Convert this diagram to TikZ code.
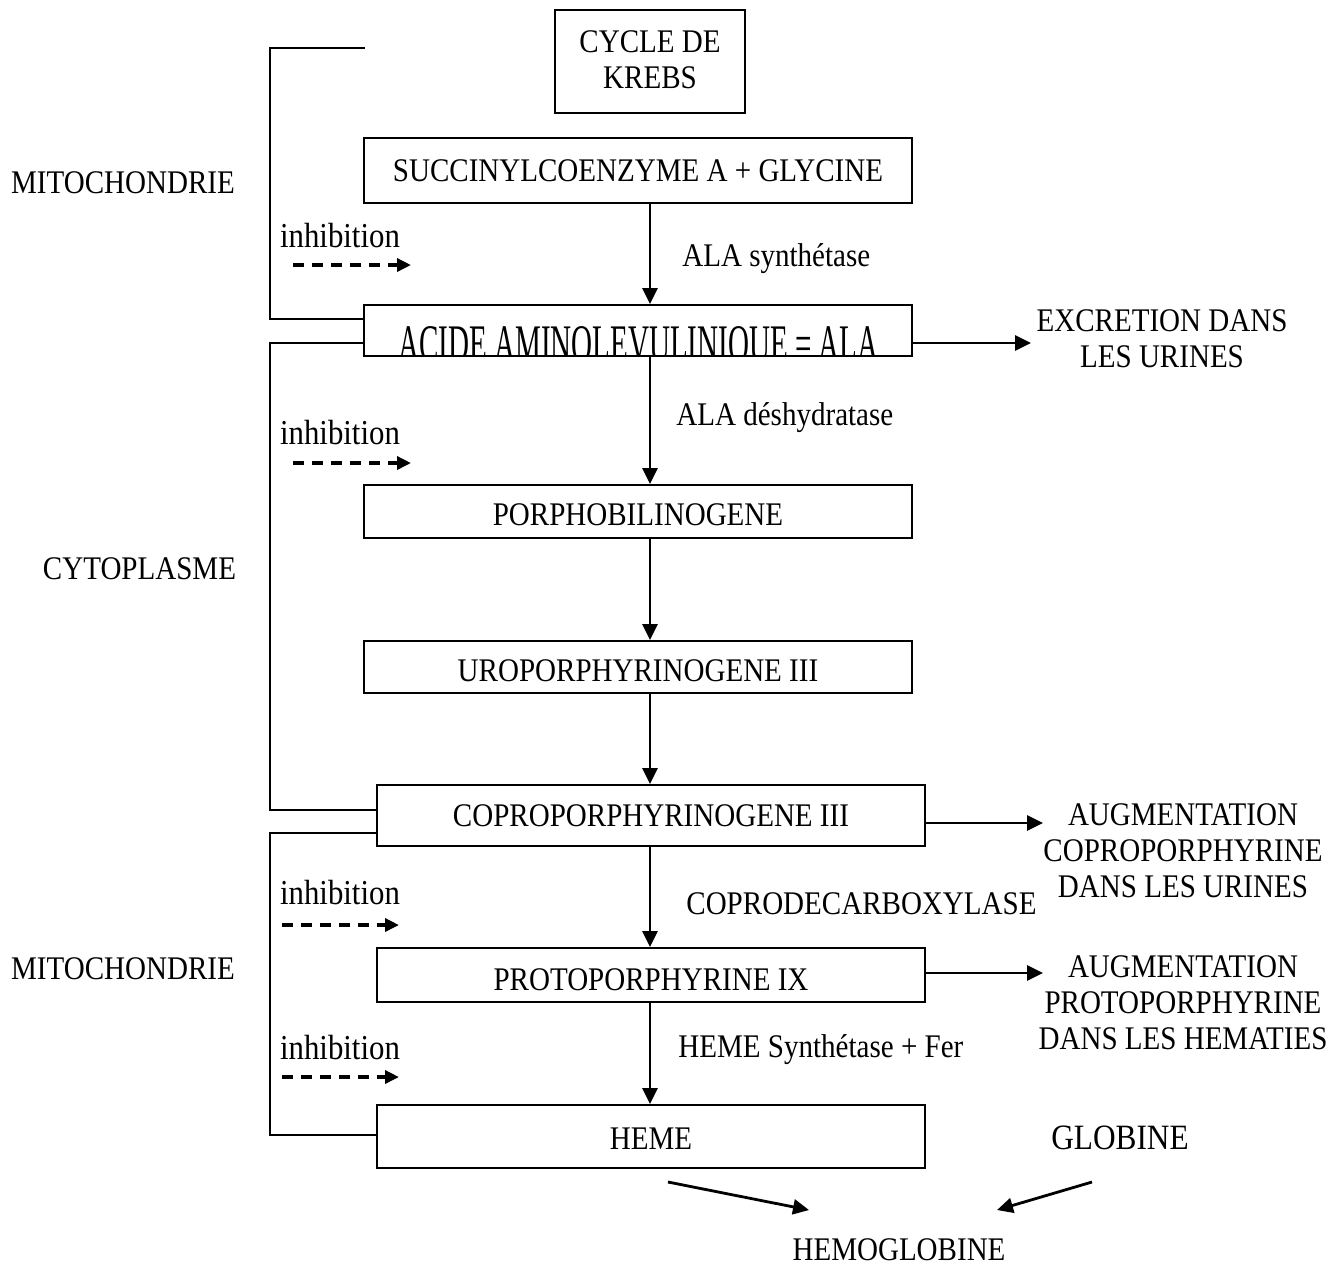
\documentclass[tikz,border=0pt]{standalone}
\usepackage{fontspec}
\usepackage{graphicx}
\setmainfont{Liberation Serif}[FakeStretch=0.88]
\usetikzlibrary{arrows.meta}
\newcommand{\dn}[2]{\raisebox{-#1}[\height][\depth]{#2}}
\tikzset{
  box/.style={draw, line width=1pt, inner sep=0pt, minimum width=274pt, align=center, font=\fontsize{16.5}{18}\selectfont},
  lbl/.style={inner sep=0pt, align=center, font=\fontsize{16.5}{18}\selectfont},
  inh/.style={inner sep=0pt, font=\fontsize{17.5}{20}\selectfont},
  arr/.style={-{Triangle[length=8pt,width=7.5pt]}, line width=1.4pt},
  dasharr/.style={-{Triangle[length=7pt,width=6.5pt]}, line width=1.7pt, dash pattern=on 5.5pt off 4pt},
  brk/.style={line width=1pt}
}
\begin{document}
\begin{tikzpicture}[x=0.5pt,y=-0.5pt]
\useasboundingbox (0,0) rectangle (1343,1266);

% boxes
\node[box, minimum width=95pt, minimum height=51.5pt] (krebs) at (650,61.5) {\dn{-1pt}{CYCLE DE}\\\dn{-1pt}{KREBS}};
\node[box, minimum height=32.5pt] (succ) at (638,170.5) {SUCCINYLCOENZYME A + GLYCINE};
\begin{scope}
  \clip (364,305) rectangle (912,355);
  \node[lbl, anchor=base] (alat) at (638.5,361) {\scalebox{1}[1.6]{ACIDE AMINOLEVULINIQUE = ALA}};
\end{scope}
\node[box, minimum height=25.5pt] (ala) at (638,330.5) {};
\node[box, minimum height=26.5pt] (porpho) at (638,511.5) {\dn{1.75pt}{PORPHOBILINOGENE}};
\node[box, minimum height=26pt] (uro) at (638,667) {\dn{2pt}{UROPORPHYRINOGENE III}};
\node[box, minimum height=30.5pt] (copro) at (651,815.5) {COPROPORPHYRINOGENE III};
\node[box, minimum height=27pt] (proto) at (651,975) {\dn{2.5pt}{PROTOPORPHYRINE IX}};
\node[box, minimum height=31.5pt] (heme) at (651,1136.5) {\dn{1.25pt}{HEME}};

% axis for vertical arrows
\coordinate (ax) at (650,0);

\draw[arr] (succ.south -| ax) -- (ala.north -| ax);
\draw[arr] (ala.south -| ax) -- (porpho.north -| ax);
\draw[arr] (porpho.south -| ax) -- (uro.north -| ax);
\draw[arr] (uro.south -| ax) -- (copro.north -| ax);
\draw[arr] (copro.south -| ax) -- (proto.north -| ax);
\draw[arr] (proto.south -| ax) -- (heme.north -| ax);

% enzyme labels
\node[lbl, anchor=base west] (e1) at (682,266) {ALA synthétase};
\node[lbl, anchor=base west] (e2) at (676,425) {ALA déshydratase};
\node[lbl, anchor=base west] (e3) at (686,914) {COPRODECARBOXYLASE};
\node[lbl, anchor=base west] (e4) at (678,1057) {HEME Synthétase + Fer};

% right outputs
\node[lbl] (excr) at (1162,339) {EXCRETION DANS\\LES URINES};
\node[lbl] (augc) at (1183,851) {AUGMENTATION\\COPROPORPHYRINE\\DANS LES URINES};
\node[lbl] (augp) at (1183,1003) {AUGMENTATION\\PROTOPORPHYRINE\\DANS LES HEMATIES};
\coordinate (y1) at (0,343);
\coordinate (y2) at (0,823);
\coordinate (y3) at (0,973);
\coordinate (xe) at (1031,0);
\coordinate (xa) at (1043,0);
\draw[arr] (ala.east |- y1) -- (xe |- y1);
\draw[arr] (copro.east |- y2) -- (xa |- y2);
\draw[arr] (proto.east |- y3) -- (xa |- y3);

% globine / hemoglobine
\node[lbl, font=\fontsize{17.8}{20}\selectfont] (glob) at (1120,1138) {GLOBINE};
\node[lbl] (hemo) at (899,1250) {HEMOGLOBINE};
\coordinate (h1) at (668,1182);
\coordinate (h2) at (809,1210);
\coordinate (g1) at (1092,1182);
\coordinate (g2) at (997,1210);
\draw[arr] (h1) -- (h2);
\draw[arr] (g1) -- (g2);

% side labels
\node[lbl] (mito1) at (123,183) {MITOCHONDRIE};
\node[lbl] (cyto) at (139.5,569) {CYTOPLASME};
\node[lbl] (mito2) at (123,969) {MITOCHONDRIE};

% brackets
\coordinate (t0) at (365,48);
\coordinate (bx) at (270,0);
\draw[brk] (t0) -- (t0 -| bx) -- (bx |- 0,319) -- (ala.west |- 0,319);
\draw[brk] (ala.west |- 0,343) -- (bx |- 0,343) -- (bx |- 0,810) -- (copro.west |- 0,810);
\draw[brk] (copro.west |- 0,833) -- (bx |- 0,833) -- (bx |- 0,1135) -- (heme.west |- 0,1135);

% inhibition
\node[inh] (i1) at (340,236) {inhibition};
\node[inh] (i2) at (340,433) {inhibition};
\node[inh] (i3) at (340,893) {inhibition};
\node[inh] (i4) at (340,1048) {inhibition};
\coordinate (d1a) at (293,265); \coordinate (d1b) at (411,265);
\coordinate (d2a) at (293,463); \coordinate (d2b) at (411,463);
\coordinate (d3a) at (282,925); \coordinate (d3b) at (399,925);
\coordinate (d4a) at (282,1077); \coordinate (d4b) at (399,1077);
\draw[dasharr] (d1a) -- (d1b);
\draw[dasharr] (d2a) -- (d2b);
\draw[dasharr] (d3a) -- (d3b);
\draw[dasharr] (d4a) -- (d4b);
\end{tikzpicture}
\end{document}
